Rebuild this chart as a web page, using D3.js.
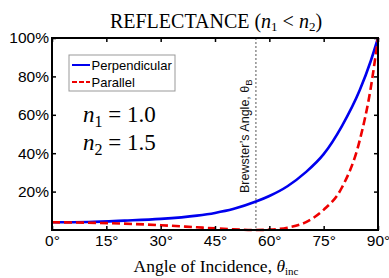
<!DOCTYPE html>
<html><head><meta charset="utf-8">
<script src="https://cdn.jsdelivr.net/npm/d3@7"></script>
<style>body{margin:0;background:#fff}</style>
</head><body><svg id="c" width="389" height="278"></svg>
<script>
const angles = [0, 10, 20, 30, 40, 45, 50, 56.3, 60, 65, 70, 75, 80, 85, 88, 90];
const perpendicular = [4.0, 4.2, 4.9, 5.8, 7.5, 8.9, 10.9, 14.8, 17.7, 22.8, 30.0, 39.5, 54.0, 73.0, 88.0, 100];
const parallel = [4.0, 3.8, 3.3, 2.5, 1.4, 0.85, 0.35, 0.0, 0.2, 1.2, 4.0, 10.5, 22.0, 47.0, 74.0, 100];
const xTicks = [0, 15, 30, 45, 60, 75, 90];
const yTicks = [20, 40, 60, 80, 100];
const brewster = 56.3;

const svg = d3.select("#c");
const m = {l: 52, r: 378, t: 38, b: 230};
const x = d3.scaleLinear().domain([0, 90]).range([m.l, m.r]);
const y = d3.scaleLinear().domain([0, 100]).range([m.b, m.t]);

// brewster line
svg.append("line").attr("x1", x(brewster)).attr("x2", x(brewster))
  .attr("y1", m.t).attr("y2", m.b).attr("stroke", "#555").attr("stroke-width", 1).attr("stroke-dasharray", "2,2");
svg.append("text").attr("transform", `translate(${x(brewster) - 7},193) rotate(-90)`)
  .attr("font-family", "Liberation Sans, Arial").attr("font-size", 12.5).attr("fill", "#111")
  .text("Brewster’s Angle, θ").append("tspan").attr("font-size", 9.5).attr("dy", 3).text("B");

const line = d3.line().x((d, i) => x(angles[i])).y(d => y(d)).curve(d3.curveMonotoneX);
svg.append("path").datum(perpendicular).attr("d", line).attr("fill", "none").attr("stroke", "#0000ee").attr("stroke-width", 2.6);
svg.append("path").datum(parallel).attr("d", line).attr("fill", "none").attr("stroke", "#ee0000").attr("stroke-width", 2.6).attr("stroke-dasharray", "8,4");

// frame
svg.append("rect").attr("x", m.l).attr("y", m.t).attr("width", m.r - m.l).attr("height", m.b - m.t)
  .attr("fill", "none").attr("stroke", "#000").attr("stroke-width", 2);

// axes
const xb = svg.append("g").attr("transform", `translate(0,${m.b})`)
  .call(d3.axisBottom(x).tickValues(xTicks).tickSizeInner(-4).tickSizeOuter(0).tickPadding(5).tickFormat(d => d + "°"));
const xt = svg.append("g").attr("transform", `translate(0,${m.t})`)
  .call(d3.axisTop(x).tickValues(xTicks).tickSizeInner(-4).tickSizeOuter(0).tickFormat(""));
const yl = svg.append("g").attr("transform", `translate(${m.l},0)`)
  .call(d3.axisLeft(y).tickValues(yTicks).tickSizeInner(-4).tickSizeOuter(0).tickPadding(3).tickFormat(d => d + "%"));
const yr = svg.append("g").attr("transform", `translate(${m.r},0)`)
  .call(d3.axisRight(y).tickValues(yTicks).tickSizeInner(-4).tickSizeOuter(0).tickFormat(""));
[xb, xt, yl, yr].forEach(g => {
  g.select(".domain").remove();
  g.selectAll("line").attr("stroke", "#000").attr("stroke-width", 1.5);
  g.selectAll("text").attr("font-family", "Liberation Sans, Arial").attr("font-size", 15.5).attr("fill", "#000");
});

// legend
const lg = svg.append("g");
lg.append("rect").attr("x", 69).attr("y", 55).attr("width", 106).attr("height", 36)
  .attr("fill", "#fff").attr("stroke", "#999").attr("stroke-width", 1);
[["Perpendicular", "#0000ee", null, 65], ["Parallel", "#ee0000", "5,2", 82]].forEach(([t, c, da, yy]) => {
  lg.append("line").attr("x1", 72).attr("x2", 90).attr("y1", yy).attr("y2", yy).attr("stroke", c).attr("stroke-width", 2).attr("stroke-dasharray", da);
  lg.append("text").attr("x", 91.5).attr("y", yy + 4.5).attr("font-family", "Liberation Sans, Arial").attr("font-size", 13).text(t);
});

// n labels
[["1", "1.0", 122], ["2", "1.5", 150]].forEach(([s, v, yy]) => {
  const t = svg.append("text").attr("x", 83).attr("y", yy).attr("font-family", "Liberation Serif, Times New Roman").attr("font-size", 23);
  t.append("tspan").attr("font-style", "italic").text("n");
  t.append("tspan").attr("font-size", 16).attr("dy", 5).text(s);
  t.append("tspan").attr("dy", -5).text(" = " + v);
});

// title
const tt = svg.append("text").attr("x", 216).attr("y", 28).attr("text-anchor", "middle")
  .attr("font-family", "Liberation Serif, Times New Roman").attr("font-size", 20);
tt.append("tspan").text("REFLECTANCE (");
tt.append("tspan").attr("font-style", "italic").text("n");
tt.append("tspan").attr("font-size", 13).attr("dy", 3).text("1");
tt.append("tspan").attr("dy", -3).text(" < ");
tt.append("tspan").attr("font-style", "italic").text("n");
tt.append("tspan").attr("font-size", 13).attr("dy", 3).text("2");
tt.append("tspan").attr("dy", -3).text(")");

// x title
const xtl = svg.append("text").attr("x", 216).attr("y", 272).attr("text-anchor", "middle")
  .attr("font-family", "Liberation Serif, Times New Roman").attr("font-size", 17.5);
xtl.append("tspan").text("Angle of Incidence, ");
xtl.append("tspan").attr("font-style", "italic").text("θ");
xtl.append("tspan").attr("font-size", 11).attr("dy", 3).text("inc");
</script></body></html>
